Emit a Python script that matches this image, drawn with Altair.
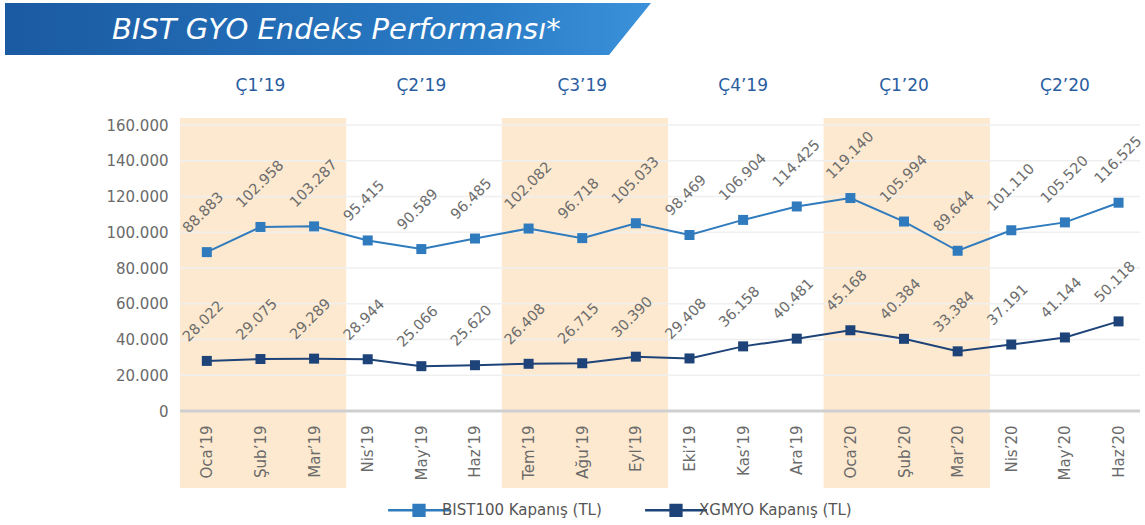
import altair as alt
import pandas as pd

months = ["Oca’19", "Şub’19", "Mar’19", "Nis’19", "May’19", "Haz’19",
          "Tem’19", "Ağu’19", "Eyl’19", "Eki’19", "Kas’19", "Ara’19",
          "Oca’20", "Şub’20", "Mar’20", "Nis’20", "May’20", "Haz’20"]
bist100 = [88883, 102958, 103287, 95415, 90589, 96485, 102082, 96718, 105033,
           98469, 106904, 114425, 119140, 105994, 89644, 101110, 105520, 116525]
xgmyo = [28022, 29075, 29289, 28944, 25066, 25620, 26408, 26715, 30390,
         29408, 36158, 40481, 45168, 40384, 33384, 37191, 41144, 50118]
quarters = ["Ç1’19", "Ç2’19", "Ç3’19", "Ç4’19", "Ç1’20", "Ç2’20"]
shaded_quarters = [0, 2, 4]
series_names = ["BIST100 Kapanış (TL)", "XGMYO Kapanış (TL)"]
series_colors = ["#2f7bbd", "#1d4378"]
y_ticks = [0, 20000, 40000, 60000, 80000, 100000, 120000, 140000, 160000]
title_text = "BIST GYO Endeks Performansı*"


def fmt(v):
    return f"{v:,}".replace(",", ".")


rows = []
for name, vals in zip(series_names, [bist100, xgmyo]):
    for i, v in enumerate(vals):
        rows.append({"idx": i, "month": months[i], "series": name, "value": v, "label": fmt(v)})
df = pd.DataFrame(rows)

bands = pd.DataFrame({"start": [q * 3 - 0.5 for q in shaded_quarters],
                      "end": [q * 3 + 2.6 for q in shaded_quarters]})
qdf = pd.DataFrame({"q": quarters, "center": [i * 3 + 1 for i in range(len(quarters))]})
grid = pd.DataFrame({"v": y_ticks[1:]})
base0 = pd.DataFrame({"v": [0]})
one = pd.DataFrame({"a": [0]})

FONT = "DejaVu Sans"
label_expr = "[" + ",".join(f"'{m}'" for m in months) + "][datum.value]"

XSC = alt.Scale(domain=[-0.5, 17.4], nice=False, zero=False)
YSC = alt.Scale(domain=[0, 160000], nice=False, zero=False)
XAX = alt.Axis(values=list(range(18)), labelExpr=label_expr, labelAngle=270,
               labelAlign="right", labelBaseline="middle", title=None, ticks=False,
               domain=False, grid=False, labelPadding=14, labelFontSize=15,
               labelColor="#6a6a6a", labelFont=FONT, zindex=1)
YAX = alt.Axis(values=y_ticks, labelExpr="replace(format(datum.value, ','), ',', '.')",
               title=None, ticks=False, domain=False, grid=False, labelPadding=12,
               labelFontSize=15, labelColor="#6a6a6a", labelFont=FONT)

band_layer = alt.Chart(bands).mark_rect(color="#fde9cf").encode(
    x=alt.X("start:Q", scale=XSC, axis=XAX),
    x2="end:Q",
    y=alt.value(-7),
    y2=alt.value(363),
)

grid_layer = alt.Chart(grid).mark_rule(color="#efefef", strokeWidth=1.5).encode(
    y=alt.Y("v:Q", scale=YSC, axis=YAX),
)

base_layer = alt.Chart(base0).mark_rule(color="#cfcfcf", strokeWidth=3).encode(
    y=alt.Y("v:Q", scale=YSC, axis=YAX),
)

color = alt.Color("series:N", scale=alt.Scale(domain=series_names, range=series_colors),
                  legend=alt.Legend(orient="none", legendX=224, legendY=370,
                                    direction="horizontal", title=None,
                                    labelFontSize=15, labelColor="#555555", labelFont=FONT,
                                    symbolType="M-2.3,0H2.3M-0.4,-0.4H0.4V0.4H-0.4Z",
                                    symbolSize=723, symbolStrokeWidth=2.5,
                                    columnPadding=38, labelOffset=8))

line_layer = alt.Chart(df).mark_line(strokeWidth=2).encode(
    x=alt.X("idx:Q", scale=XSC, axis=XAX),
    y=alt.Y("value:Q", scale=YSC, axis=YAX),
    color=color,
    detail="series:N",
)

point_layer = alt.Chart(df).mark_point(shape="square", filled=True, size=100, opacity=1).encode(
    x=alt.X("idx:Q", scale=XSC, axis=XAX),
    y=alt.Y("value:Q", scale=YSC, axis=YAX),
    color=color,
)

label_layer = alt.Chart(df).mark_text(angle=315, align="left", baseline="middle",
                                      dx=0, dy=-30, fontSize=14.5, color="#6d6d6d",
                                      font=FONT).encode(
    x=alt.X("idx:Q", scale=XSC, axis=XAX),
    y=alt.Y("value:Q", scale=YSC, axis=YAX),
    text="label:N",
)

q_layer = alt.Chart(qdf).mark_text(fontSize=17, color="#2a5d9f", font=FONT,
                                   baseline="middle").encode(
    x=alt.X("center:Q", scale=XSC, axis=XAX),
    y=alt.value(-39),
    text="q:N",
)

banner_path = "M-1,-0.0805L1,-0.0805L0.870,0.0805L-1,0.0805Z"
banner = alt.Chart(one).mark_point(
    shape=banner_path, filled=True, size=646 * 646, opacity=1, strokeWidth=0,
    color=alt.Gradient(gradient="linear",
                       stops=[alt.GradientStop(color="#1a5aa2", offset=0),
                              alt.GradientStop(color="#2a7cc6", offset=0.75),
                              alt.GradientStop(color="#3b92da", offset=1)],
                       x1=0, x2=1, y1=0, y2=0),
).encode(x=alt.value(148), y=alt.value(-96))

banner_text = alt.Chart(one).mark_text(
    align="left", baseline="middle", fontStyle="italic", fontSize=29,
    color="white", font=FONT,
).encode(x=alt.value(-68), y=alt.value(-95), text=alt.value(title_text))

chart = alt.layer(
    band_layer, grid_layer, base_layer, line_layer, point_layer, label_layer,
    q_layer, banner, banner_text,
).properties(
    width=960, height=286,
    autosize=alt.AutoSizeParams(type="none"),
    padding={"left": 180, "top": 125, "right": 5, "bottom": 114},
    background="white",
).configure_view(stroke=None)

chart.save("out.html", embed_options={"renderer": "svg", "actions": False})
